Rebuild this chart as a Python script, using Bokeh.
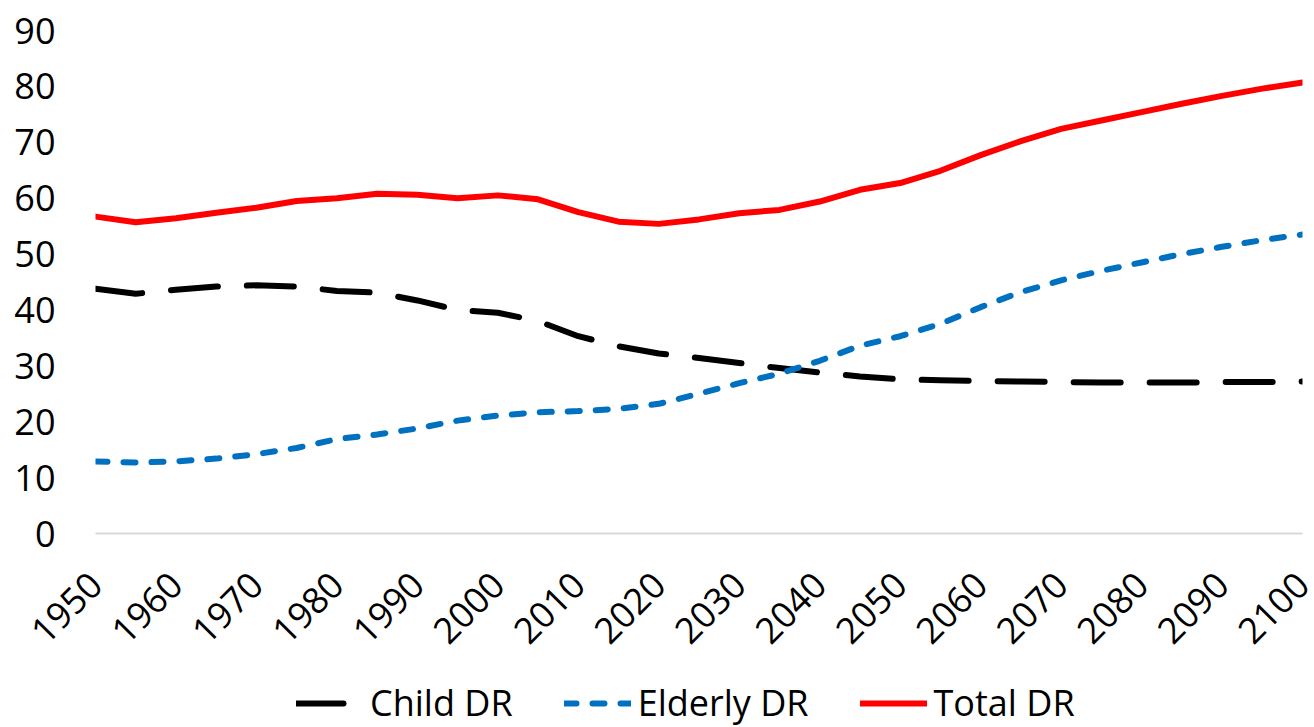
import math
from bokeh.plotting import figure
from bokeh.layouts import column
from bokeh.models import FixedTicker, Legend, LegendItem, ColumnDataSource, Range1d
from bokeh.embed import file_html
from bokeh.resources import INLINE

years = [1950, 1955, 1960, 1965, 1970, 1975, 1980, 1985, 1990, 1995,
         2000, 2005, 2010, 2015, 2020, 2025, 2030, 2035, 2040, 2045,
         2050, 2055, 2060, 2065, 2070, 2075, 2080, 2085, 2090, 2095, 2100]
child_dr = [43.8, 42.9, 43.6, 44.2, 44.4, 44.2, 43.4, 43.1, 41.7, 40.0,
            39.5, 38.0, 35.3, 33.5, 32.2, 31.4, 30.5, 29.6, 28.8, 28.1,
            27.6, 27.4, 27.3, 27.2, 27.1, 27.0, 27.0, 27.0, 27.1, 27.1, 27.2]
elderly_dr = [12.9, 12.7, 12.9, 13.4, 14.2, 15.3, 16.9, 17.7, 18.8, 20.2,
              21.1, 21.7, 21.9, 22.3, 23.2, 25.0, 26.9, 28.6, 30.9, 33.6,
              35.3, 37.5, 40.5, 43.2, 45.3, 47.0, 48.5, 50.0, 51.3, 52.5, 53.5]
total_dr = [56.7, 55.7, 56.4, 57.4, 58.3, 59.5, 60.0, 60.8, 60.6, 60.0,
            60.5, 59.8, 57.5, 55.8, 55.4, 56.2, 57.3, 57.9, 59.4, 61.5,
            62.7, 64.9, 67.7, 70.2, 72.4, 73.9, 75.4, 76.9, 78.3, 79.6, 80.7]
series_names = ["Child DR", "Elderly DR", "Total DR"]
x_ticks = [1950, 1960, 1970, 1980, 1990, 2000, 2010, 2020, 2030, 2040,
           2050, 2060, 2070, 2080, 2090, 2100]
y_ticks = [0, 10, 20, 30, 40, 50, 60, 70, 80, 90]

FONT = "Open Sans"
FS = "36px"

styles = [dict(line_color="black", line_width=6, line_dash="47 29"),
          dict(line_color="#0070C0", line_width=6, line_dash="12 16"),
          dict(line_color="#FF0000", line_width=6)]
cols = ["child", "elderly", "total"]

src = ColumnDataSource(dict(year=years, child=child_dr, elderly=elderly_dr, total=total_dr))

p = figure(width=1314, height=675, output_backend="svg", toolbar_location=None,
           x_range=Range1d(1950, 2100), y_range=Range1d(0, 90),
           min_border_left=95, min_border_right=12, min_border_top=30, min_border_bottom=142)
p.outline_line_color = None
p.background_fill_color = "white"
p.border_fill_color = "white"
p.xgrid.visible = False
p.ygrid.visible = False

# y axis
p.yaxis.ticker = FixedTicker(ticks=y_ticks)
p.yaxis.axis_line_color = None
p.yaxis.major_tick_line_color = None
p.yaxis.minor_tick_line_color = None
p.yaxis.major_tick_out = 0
p.yaxis.major_tick_in = 0
p.yaxis.major_label_standoff = 40
p.yaxis.major_label_text_font = FONT
p.yaxis.major_label_text_font_size = FS
p.yaxis.major_label_text_color = "black"

# x axis
p.xaxis.ticker = FixedTicker(ticks=x_ticks)
p.xaxis.axis_line_color = "#D9D9D9"
p.xaxis.axis_line_width = 2
p.xaxis.major_tick_line_color = None
p.xaxis.minor_tick_line_color = None
p.xaxis.major_label_orientation = math.pi / 4
p.xaxis.major_label_standoff = 39
p.xaxis.major_label_text_font = FONT
p.xaxis.major_label_text_font_size = FS
p.xaxis.major_label_text_color = "black"

for col, st in zip(cols, styles):
    p.line("year", col, source=src, line_cap="round", line_join="round", **st)

# legend strip below the chart (series drawn outside its visible range; only the legend shows)
q = figure(width=1314, height=52, output_backend="svg", toolbar_location=None,
           x_range=Range1d(0, 1), y_range=Range1d(0, 1), min_border=0,
           x_axis_location=None, y_axis_location=None)
q.outline_line_color = None
q.xgrid.visible = False
q.ygrid.visible = False
q.background_fill_color = "white"
q.border_fill_color = "white"

items = []
for name, col, st in zip(series_names, cols, styles):
    r = q.line("year", col, source=src, line_cap="round", line_join="round", **st)
    items.append(LegendItem(label=name, renderers=[r]))

legend = Legend(items=items, location=(201, 0), orientation="horizontal")
legend.background_fill_alpha = 0
legend.border_line_color = None
legend.label_text_font = FONT
legend.label_text_font_size = FS
legend.label_text_color = "black"
legend.glyph_width = 67
legend.glyph_height = 20
legend.label_standoff = 7
legend.spacing = 51
legend.padding = 0
legend.margin = 0
q.add_layout(legend)

layout = column(p, q, spacing=0)
open("out.html", "w").write(file_html(layout, INLINE))
